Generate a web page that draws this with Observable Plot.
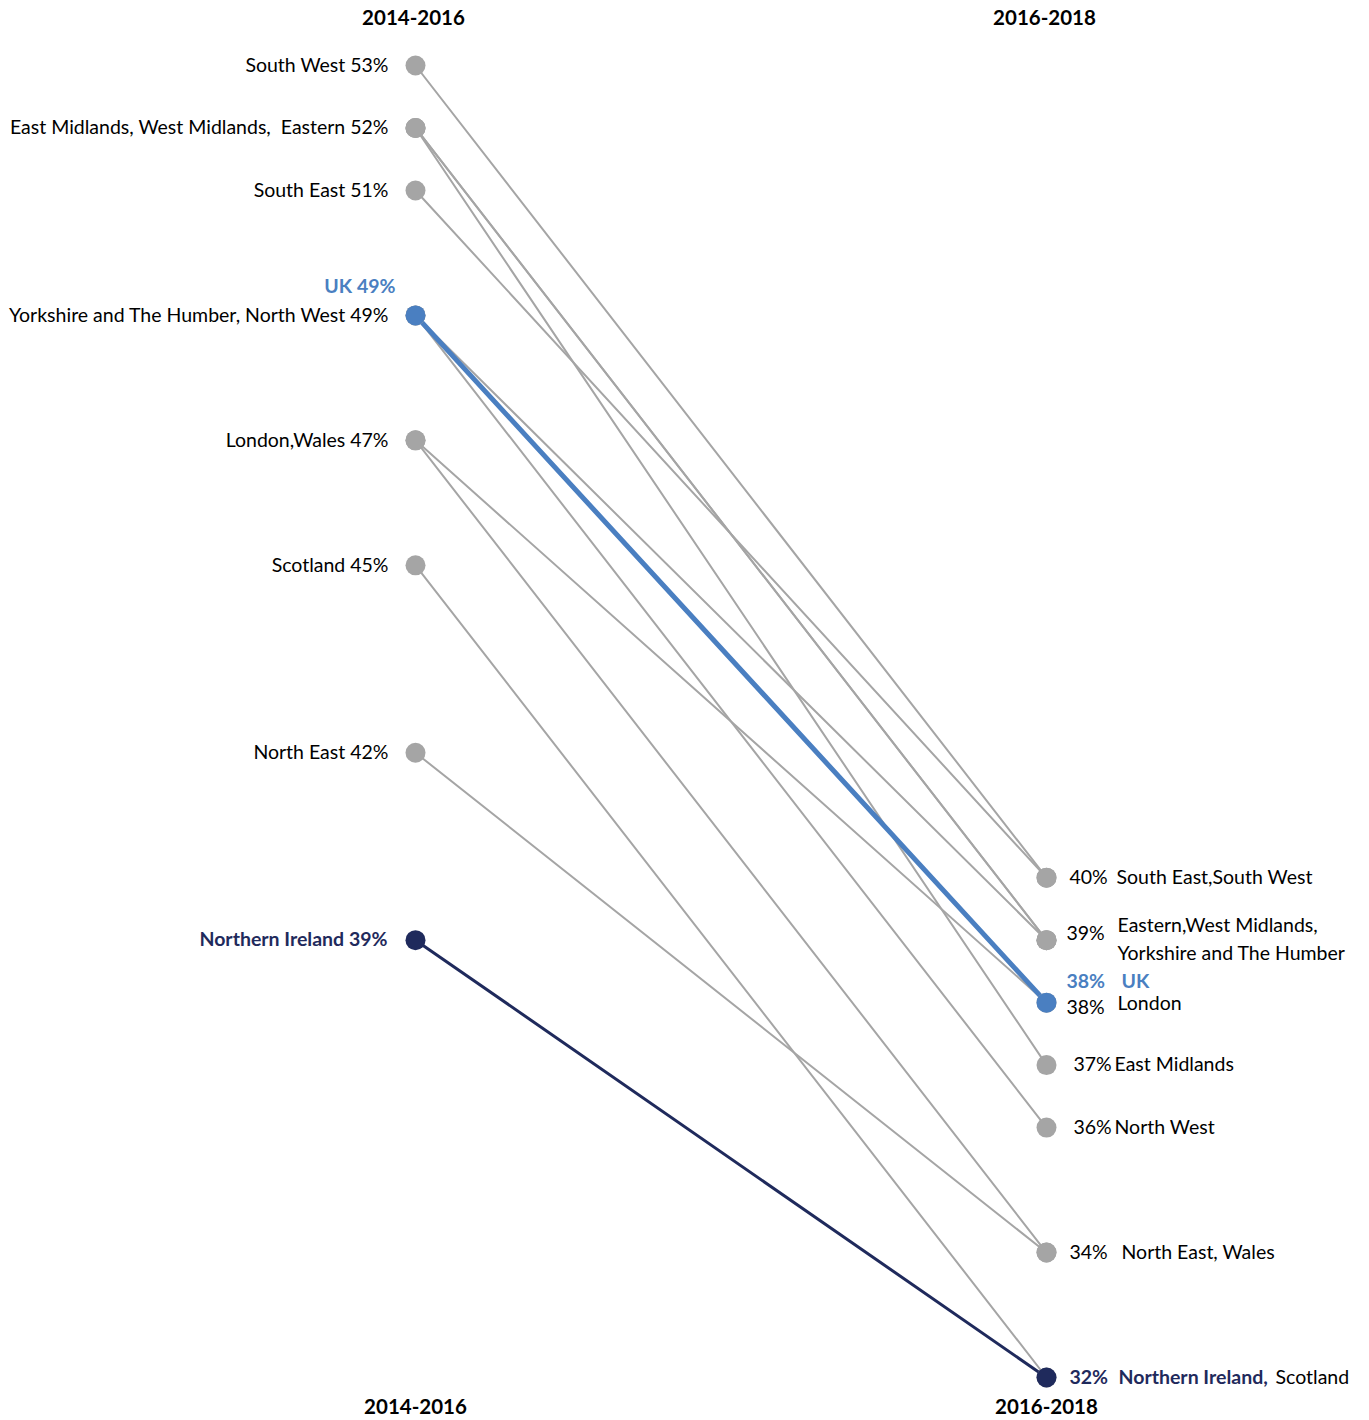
<!DOCTYPE html>
<html>
<head>
<meta charset="utf-8">
<script src="https://cdn.jsdelivr.net/npm/d3@7"></script>
<script src="https://cdn.jsdelivr.net/npm/@observablehq/plot@0.6"></script>
<style>
  html, body { margin: 0; padding: 0; background: #fff; }
  #chart svg { display: block; }
</style>
</head>
<body>
<div id="chart"></div>
<script>
// ---- data ----
const periods = ["2014-2016", "2016-2018"];
const regions = ["South West", "East Midlands", "West Midlands", "Eastern", "South East",
  "Yorkshire and The Humber", "North West", "London", "Wales", "Scotland", "North East",
  "Northern Ireland", "UK"];
const v2014_2016 = [53, 52, 52, 52, 51, 49, 49, 47, 47, 45, 42, 39, 49];
const v2016_2018 = [40, 37, 39, 39, 40, 39, 36, 38, 34, 32, 34, 32, 38];

// left-hand labels (value, text)
const leftValues = [53, 52, 51, 49, 47, 45, 42];
const leftTexts = ["South West 53%", "East Midlands, West Midlands,  Eastern 52%", "South East 51%",
  "Yorkshire and The Humber, North West 49%", "London,Wales 47%", "Scotland 45%", "North East 42%"];
// right-hand labels
const rightValues = [40, 39, 38, 37, 36, 34];
const rightPct = ["40%", "39%", "38%", "37%", "36%", "34%"];
const rightNames = ["South East,South West", "Eastern,West Midlands,\nYorkshire and The Humber", "London",
  "East Midlands", "North West", "North East, Wales"];

const GRAY = "#a5a5a5", BLUE = "#4a7fc1", NAVY = "#1f2a5c";
const FONT = "Lato, 'Open Sans', sans-serif";

const long = [];
regions.forEach((r, i) => {
  long.push({region: r, period: periods[0], value: v2014_2016[i]});
  long.push({region: r, period: periods[1], value: v2016_2018[i]});
});
const gray = long.filter(d => d.region !== "UK" && d.region !== "Northern Ireland");
const uk = long.filter(d => d.region === "UK");
const ni = long.filter(d => d.region === "Northern Ireland");
const left = leftValues.map((v, i) => ({value: v, text: leftTexts[i]}));
const right = rightValues.map((v, i) => ({value: v, pct: rightPct[i], name: rightNames[i]}));
const P0 = periods[0], P1 = periods[1];

const fs = 19.5;
const sel = vals => right.filter(d => vals.includes(d.value));
const chart = Plot.plot({
  width: 1369, height: 1420,
  margin: 0,
  style: {fontFamily: FONT, fontSize: fs + "px", color: "#000", background: "#fff"},
  x: {type: "point", domain: periods, range: [415, 1046], padding: 0, axis: null},
  y: {domain: [53, 32], range: [65, 1377], axis: null},
  marks: [
    Plot.line(gray, {x: "period", y: "value", z: "region", stroke: GRAY, strokeWidth: 2}),
    Plot.line(ni, {x: "period", y: "value", stroke: NAVY, strokeWidth: 3}),
    Plot.line(uk, {x: "period", y: "value", stroke: BLUE, strokeWidth: 5}),
    Plot.dot(gray, {x: "period", y: "value", r: 10, fill: GRAY}),
    Plot.dot(ni, {x: "period", y: "value", r: 10, fill: NAVY}),
    Plot.dot(uk, {x: "period", y: "value", r: 10, fill: BLUE}),
    // headers
    Plot.text(periods, {x: d => d, frameAnchor: "top", dy: 18, dx: -2, text: d => d, fontWeight: "bold", fontSize: 20.5, lineAnchor: "middle"}),
    Plot.text(periods, {x: d => d, frameAnchor: "bottom", dy: -13, text: d => d, fontWeight: "bold", fontSize: 20.5, lineAnchor: "middle"}),
    // left labels
    Plot.text(left, {x: () => P0, y: "value", text: "text", textAnchor: "end", dx: -27, fill: "#000"}),
    Plot.text([{value: 49, text: "UK 49%"}], {x: () => P0, y: "value", text: "text", textAnchor: "end", dx: -20, dy: -29, fill: BLUE, fontWeight: "bold"}),
    Plot.text([{value: 39, text: "Northern Ireland 39%"}], {x: () => P0, y: "value", text: "text", textAnchor: "end", dx: -28, fill: NAVY, fontWeight: "bold"}),
    // right labels: percentages
    Plot.text(sel([40, 34]), {x: () => P1, y: "value", text: "pct", textAnchor: "start", dx: 23, fill: "#000"}),
    Plot.text(sel([37, 36]), {x: () => P1, y: "value", text: "pct", textAnchor: "start", dx: 27, fill: "#000"}),
    Plot.text(sel([39]), {x: () => P1, y: "value", text: "pct", textAnchor: "start", dx: 20, dy: -6, fill: "#000"}),
    Plot.text(sel([38]), {x: () => P1, y: "value", text: "pct", textAnchor: "start", dx: 20, dy: 5, fill: "#000"}),
    // right labels: names
    Plot.text(sel([40]), {x: () => P1, y: "value", text: "name", textAnchor: "start", dx: 70, fill: "#000"}),
    Plot.text(sel([39]), {x: () => P1, y: "value", text: "name", textAnchor: "start", dx: 71, dy: -3, lineHeight: 1.45, fill: "#000"}),
    Plot.text(sel([38]), {x: () => P1, y: "value", text: "name", textAnchor: "start", dx: 71, dy: 1, fill: "#000"}),
    Plot.text(sel([37, 36]), {x: () => P1, y: "value", text: "name", textAnchor: "start", dx: 68, fill: "#000"}),
    Plot.text(sel([34]), {x: () => P1, y: "value", text: "name", textAnchor: "start", dx: 75, fill: "#000"}),
    Plot.text([{value: 38}], {x: () => P1, y: "value", text: () => "38%", textAnchor: "start", dx: 20, dy: -21, fill: BLUE, fontWeight: "bold"}),
    Plot.text([{value: 38}], {x: () => P1, y: "value", text: () => "UK", textAnchor: "start", dx: 75, dy: -21, fill: BLUE, fontWeight: "bold"}),
    Plot.text([{value: 32}], {x: () => P1, y: "value", text: () => "32%", textAnchor: "start", dx: 23, fill: NAVY, fontWeight: "bold"}),
    Plot.text([{value: 32}], {x: () => P1, y: "value", text: () => "Northern Ireland,", textAnchor: "start", dx: 72, fill: NAVY, fontWeight: "bold"}),
    Plot.text([{value: 32}], {x: () => P1, y: "value", text: () => "Scotland", textAnchor: "start", dx: 229, fill: "#000"})
  ]
});
document.getElementById("chart").appendChild(chart);
</script>
</body>
</html>
